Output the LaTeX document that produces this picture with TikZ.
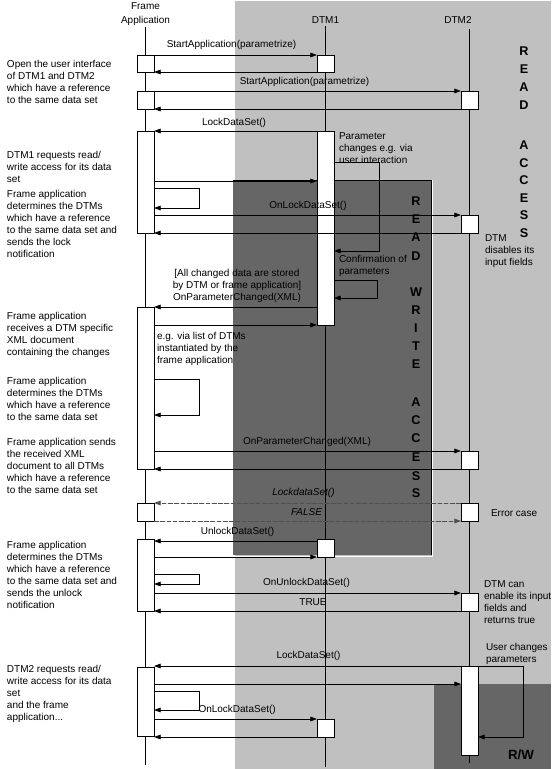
\documentclass[tikz,border=0pt]{standalone}
\usepackage{fontspec}
\setmainfont{Liberation Sans}
\usetikzlibrary{arrows.meta,fit}
\definecolor{lightgr}{HTML}{C0C0C0}
\definecolor{darkgr}{HTML}{666666}
\definecolor{dashgr}{HTML}{505050}
\begin{document}
\begin{tikzpicture}[x=0.75pt,y=-0.75pt,
  every node/.style={inner sep=0pt, outer sep=0pt},
  lbl/.style={font=\fontsize{7.5}{9}\selectfont},
  ilbl/.style={font=\fontsize{7.5}{9}\selectfont\itshape},
  txt/.style={lbl, align=left, anchor=north west},
  hdr/.style={font=\fontsize{7.5}{10}\selectfont, align=center},
  big/.style={font=\fontsize{9.5}{11}\selectfont\bfseries},
  act/.style={draw, fill=white, line width=0.6pt},
  life/.style={line width=0.6pt},
  msg/.style={line width=0.6pt, -{Triangle[length=5pt,width=3.5pt]}},
  dmsg/.style={msg, draw=dashgr, fill=dashgr, dash pattern=on 3.5pt off 1.2pt}
]
\useasboundingbox (0,0) rectangle (552,769);
\fill[white] (0,0) rectangle (552,769);
\fill[lightgr] (235,1) rectangle (551,769);
% READ WRITE ACCESS area
\fill[darkgr] (233,180) rectangle (431,555);
\draw[black, line width=0.5pt] (233,180) -- (431,180) -- (431,555);
\draw[white, line width=0.75pt] (432.5,180) -- (432.5,556.5) -- (233,556.5);
% R/W area
\fill[darkgr] (434,684) rectangle (551,769);

% headers
\node[hdr] (hf) at (145.5,14) {Frame\\Application};
\node[lbl] (h1) at (325.5,20) {DTM1};
\node[lbl] (h2) at (458,20) {DTM2};

% lifelines
\coordinate (fa0) at (145.5,27); \coordinate (fa1) at (145.5,765);
\coordinate (da0) at (325.5,26); \coordinate (da1) at (325.5,767);
\coordinate (db0) at (469.5,29); \coordinate (db1) at (469.5,763);
\draw[life] (fa0) -- (fa1);
\draw[life] (da0) -- (da1);
\draw[life] (db0) -- (db1);

% activation boxes
\node[act, fit={(137,55) (154,72)}] (f1) {};
\node[act, fit={(137,91) (154,109)}] (f2) {};
\node[act, fit={(137,131) (154,233)}] (f3) {};
\node[act, fit={(137,307) (154,469)}] (f4) {};
\node[act, fit={(137,503) (154,521)}] (f5) {};
\node[act, fit={(137,539) (154,611)}] (f6) {};
\node[act, fit={(137,667) (154,736)}] (f7) {};
\node[act, fit={(317,55) (334,72)}] (d1a) {};
\node[act, fit={(317,131) (334,325)}] (d1b) {};
\node[act, fit={(317,539) (334,557)}] (d1c) {};
\node[act, fit={(317,719) (334,737)}] (d1d) {};
\node[act, fit={(461,91) (478,109)}] (d2a) {};
\node[act, fit={(461,215) (478,233)}] (d2b) {};
\node[act, fit={(461,451) (478,469)}] (d2c) {};
\node[act, fit={(461,503) (478,521)}] (d2d) {};
\node[act, fit={(461,593) (478,611)}] (d2e) {};
\node[act, fit={(461,666) (478,755)}] (d2f) {};

% messages
\draw[msg] (f1.north east) -- (d1a.north west);
\draw[msg] (d1a.south west) -- (f1.south east);
\draw[msg] (f2.north east) -- (d2a.north west);
\draw[msg] (d2a.south west) -- (f2.south east);
\draw[msg] (d1b.north west) -- (f3.north east);
\draw[msg] (f3.east |- 0,181) -- (d1b.west |- 0,181);
\draw[msg] (f3.east |- 0,188) -| (199,208) -- (f3.east |- 0,208);
\draw[msg] (f3.east |- d2b.north) -- (d2b.north west);
\draw[msg] (d2b.south west) -- (f3.south east);
\draw[msg] (d1b.east |- 0,162) -| (379,251) -- (d1b.east |- 0,251);
\draw[msg] (d1b.east |- 0,280) -| (377,298) -- (d1b.east |- 0,298);
\draw[msg] (d1b.west |- f4.north) -- (f4.north east);
\draw[msg] (f4.east |- d1b.south) -- (d1b.south west);
\draw[msg] (f4.east |- 0,379) -| (199,415) -- (f4.east |- 0,415);
\draw[msg] (f4.east |- d2c.north) -- (d2c.north west);
\draw[msg] (d2c.south west) -- (f4.south east);
\draw[dmsg] (d2d.north west) -- (f5.north east);
\draw[dmsg] (f5.south east) -- (d2d.south west);
\draw[msg] (d1c.west |- 0,541) -- (f6.east |- 0,541);
\draw[msg] (f6.east |- d1c.south) -- (d1c.south west);
\draw[msg] (f6.east |- 0,574) -| (199,584) -- (f6.east |- 0,584);
\draw[msg] (f6.east |- d2e.north) -- (d2e.north west);
\draw[msg] (d2e.south west) -- (f6.south east);
\draw[msg] (d2f.west |- 0,666) -- (f7.east |- 0,666);
\draw[msg] (f7.east |- 0,684) -- (d2f.west |- 0,684);
\draw[msg] (d2f.north east) -| (523,737) -- (d2f.east |- 0,737);
\draw[msg] (f7.east |- 0,691) -| (199,710) -- (f7.east |- 0,710);
\draw[msg] (f7.east |- d1d.north) -- (d1d.north west);
\draw[msg] (d1d.south west) -- (f7.south east |- d1d.south);

% message labels
\node[lbl] (l1) at (231.5,45) {StartApplication(parametrize)};
\node[lbl] (l2) at (304.5,82) {StartApplication(parametrize)};
\node[lbl] (l3) at (234,123) {LockDataSet()};
\node[lbl] (l4) at (308,206) {OnLockDataSet()};
\node[lbl, align=center] (l5) at (237,286) {[All changed data are stored\\by DTM or frame application]\\OnParameterChanged(XML)};
\node[lbl] (l6) at (307,442) {OnParameterChanged(XML)};
\node[ilbl] (l7) at (303.5,493) {LockdataSet()};
\node[ilbl] (l8) at (306.5,512) {FALSE};
\node[lbl] (l9) at (237.5,532) {UnlockDataSet()};
\node[lbl] (l10) at (306.5,583) {OnUnlockDataSet()};
\node[lbl] (l11) at (313,602) {TRUE};
\node[lbl] (l12) at (308.5,656) {LockDataSet()};
\node[lbl, anchor=west] (l13) at (198.5,710) {OnLockDataSet()};

% left descriptions
\node[txt] (t1) at (7,60) {Open the user interface\\of DTM1 and DTM2\\which have a reference\\to the same data set};
\node[txt] (t2) at (7,151) {DTM1 requests read/\\write access for its data\\set};
\node[txt] (t3) at (7,190) {Frame application\\determines the DTMs\\which have a reference\\to the same data set and\\sends the lock\\notification};
\node[txt] (t4) at (7,312.5) {Frame application\\receives a DTM specific\\XML document\\containing the changes};
\node[txt] (t5) at (7,377) {Frame application\\determines the DTMs\\which have a reference\\to the same data set};
\node[txt] (t6) at (7,438.5) {Frame application sends\\the received XML\\document to all DTMs\\which have a reference\\to the same data set};
\node[txt] (t7) at (7,541) {Frame application\\determines the DTMs\\which have a reference\\to the same data set and\\sends the unlock\\notification};
\node[txt] (t8) at (7,665) {DTM2 requests read/\\write access for its data\\set\\and the frame\\application...};

% notes
\node[txt] (p1) at (339,133) {Parameter\\changes e.g. via\\user interaction};
\node[txt] (p2) at (339,255) {Confirmation of\\parameters};
\node[txt] (p3) at (485,234.5) {DTM\\disables its\\input fields};
\node[txt] (p4) at (157,332) {e.g. via list of DTMs\\instantiated by the\\frame application};
\node[lbl, anchor=west] (p5) at (491,513) {Error case};
\node[txt] (p6) at (484,581) {DTM can\\enable its input\\fields and\\returns true};
\node[txt] (p7) at (486,643) {User changes\\parameters};

% big vertical letters
\foreach \l/\yy [count=\i] in {R/51,E/69,A/87,D/105,A/145,C/163,C/180,E/198,S/215,S/233}
  \node[big] (ra\i) at (524,\yy) {\l};
\foreach \l/\yy [count=\i] in {R/201,E/219,A/237,D/256,W/292,R/310,I/328,T/346,E/364,A/402,C/420,C/438,E/457,S/476,S/493}
  \node[big] (rw\i) at (416,\yy) {\l};
\node[font=\fontsize{10}{12}\selectfont\bfseries] (rwl) at (521,755) {R/W};
\end{tikzpicture}
\end{document}
